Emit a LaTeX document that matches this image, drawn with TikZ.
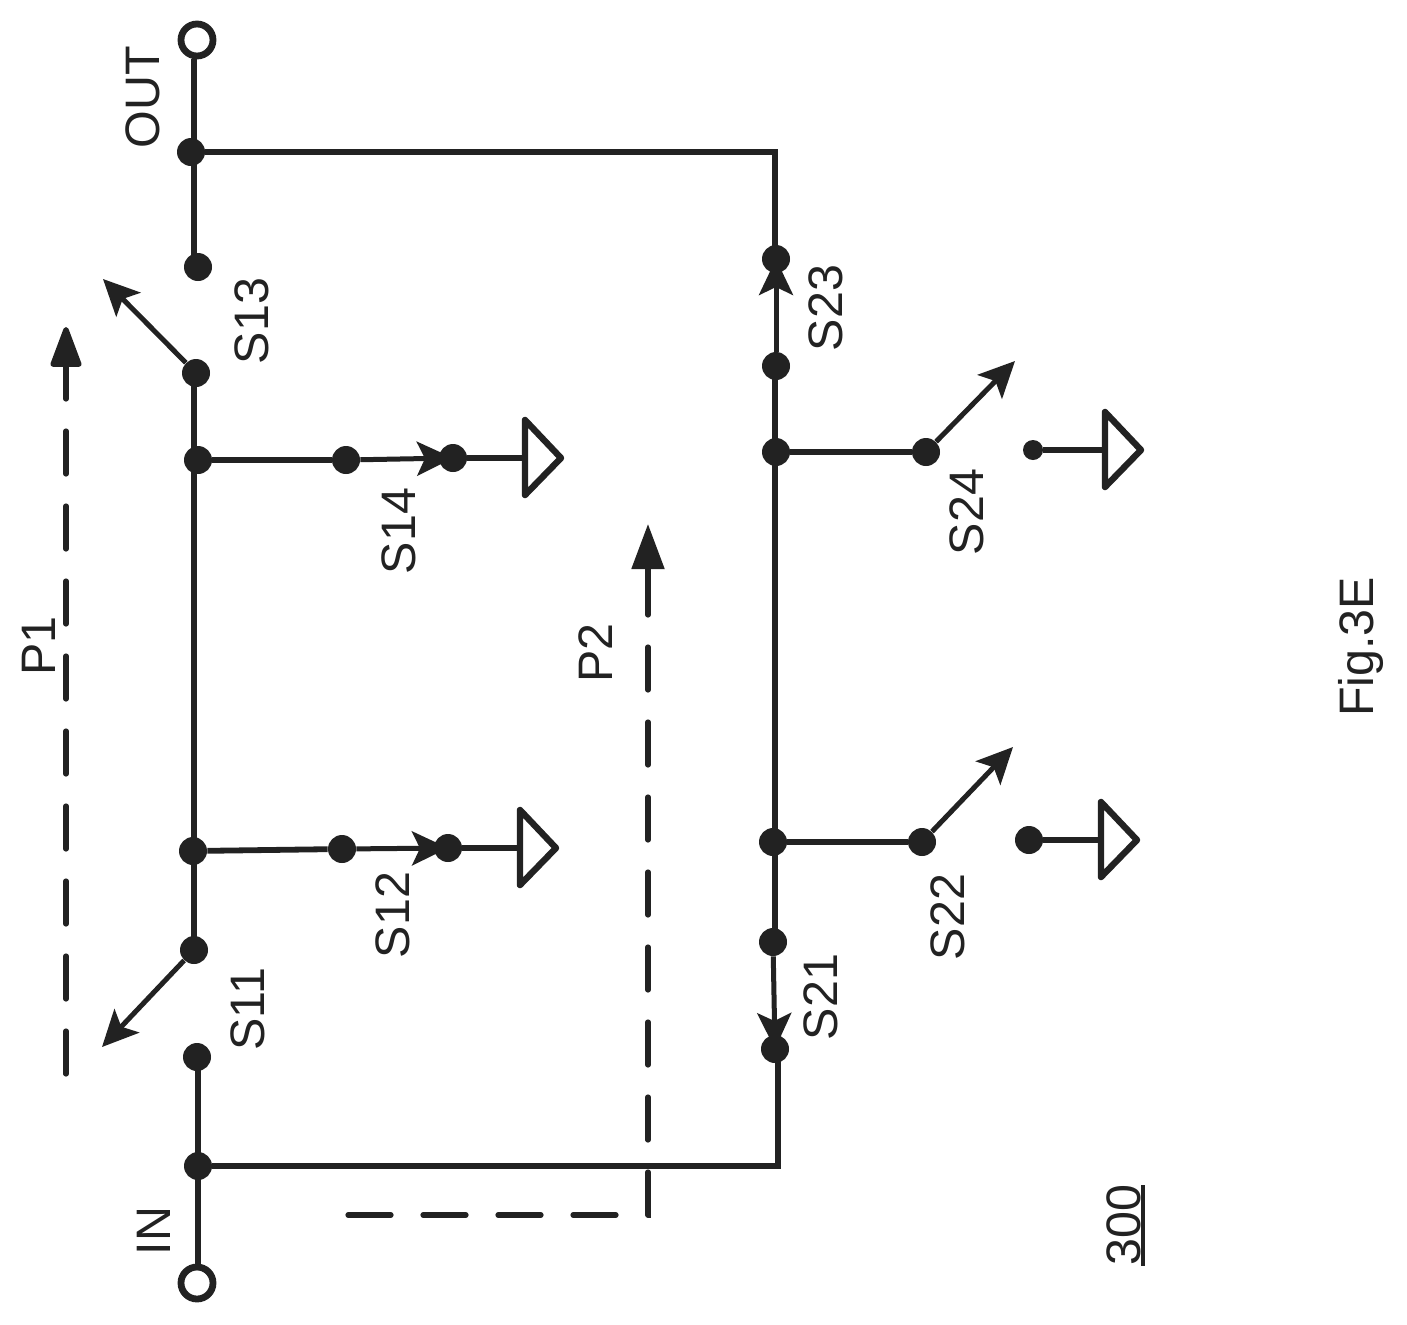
\documentclass[tikz,border=0pt]{standalone}
\usepackage{fontspec}
\setmainfont{Liberation Sans}
\usetikzlibrary{arrows.meta}
\definecolor{ink}{HTML}{222222}
\tikzset{
  dot/.style={circle,fill=ink,draw=none,inner sep=0pt,minimum size=14pt},
  smalldot/.style={circle,fill=ink,draw=none,inner sep=0pt,minimum size=10pt},
  term/.style={circle,fill=white,draw=ink,line width=3.4pt,inner sep=0pt,minimum size=16pt},
  wire/.style={draw=ink,line width=3.4pt},
  thin wire/.style={draw=ink,line width=2.9pt},
  sw/.style={draw=ink,line width=2.5pt,-{Stealth[length=18pt,width=17pt,inset=4pt]}},
  path dash/.style={draw=ink,line width=2.6pt,line cap=round,dash pattern=on 21.5pt off 16pt,-{Triangle[length=22.5pt,width=16pt,round=false]}},
  plain dash/.style={draw=ink,line width=2.6pt,line cap=round,dash pattern=on 21.5pt off 16pt},
  gnd/.style={draw=ink,line width=3.2pt,line join=round},
  lab/.style={rotate=90,inner sep=0pt,text=ink,font=\fontsize{24.2pt}{27pt}\selectfont},
}
\begin{document}
\begin{tikzpicture}[x=0.5pt,y=-0.5pt]
\useasboundingbox (0,0) rectangle (1407,1324);
\fill[white] (0,0) rectangle (1407,1324);
% rails
\coordinate (rt) at (194,0);
\coordinate (rb) at (198,0);
\coordinate (rr) at (775,0);
% dots and terminals
\node[term] (out) at (197,40) {};
\node[term] (in) at (197,1283) {};
\node[dot] (outj) at (191,152) {};
\node[dot] (s13a) at (198,267) {};
\node[dot] (s13b) at (196,373) {};
\node[dot] (j14) at (198,460) {};
\node[dot] (s14a) at (346,460) {};
\node[dot] (s14b) at (453,458) {};
\node[dot] (j12) at (193,851) {};
\node[dot] (s12a) at (342,849) {};
\node[dot] (s12b) at (448,848) {};
\node[dot] (s11a) at (194,950) {};
\node[dot] (s11b) at (197,1057) {};
\node[dot] (inj) at (198,1166) {};
\node[dot] (s23b) at (776,259) {};
\node[dot] (s23a) at (776,366) {};
\node[dot] (j24) at (776,452) {};
\node[dot] (s24a) at (926,452) {};
\node[smalldot] (s24b) at (1033,450) {};
\node[dot] (j22) at (773,842) {};
\node[dot] (s22a) at (922,842) {};
\node[dot] (s22b) at (1029,840) {};
\node[dot] (s21a) at (773,942) {};
\node[dot] (s21b) at (775,1049) {};
% free ends
\coordinate (c1) at (775,152);
\coordinate (c2) at (778,1166);
\coordinate (t13) at (103,279);
\coordinate (t11) at (102,1047);
\coordinate (t24) at (1015,361);
\coordinate (t22) at (1013,747);
\coordinate (g14) at (525,458);
\coordinate (g12) at (520,848);
\coordinate (g24) at (1105,450);
\coordinate (g22) at (1101,840);
\coordinate (p1a) at (66,1074);
\coordinate (p1b) at (66,327);
\coordinate (p2s) at (348,1215);
\coordinate (p2c) at (648,1215);
\coordinate (p2b) at (648,524);
\coordinate (u300a) at (1143,1185);
\coordinate (u300b) at (1143,1266);
% wires
\path[wire] (rt |- out.south) -- (rt |- s13a);
\path[wire] (rt |- s13b) -- (rt |- s11a);
\path[wire] (rb |- s11b) -- (rb |- in.north);
\path[thin wire,line join=miter] (outj) -- (c1) -- (c1 |- s23b);
\path[thin wire,line join=miter] (inj) -- (c2) -- (c2 |- s21b);
\path[wire] (rr |- s23a) -- (rr |- s21a);
\path[thin wire] (j14) -- (s14a);
\path[thin wire] (j12) -- (s12a);
\path[thin wire] (j24) -- (s24a);
\path[thin wire] (j22) -- (s22a);
% switches
\path[sw] (s13b) -- (t13);
\path[sw] (s11a) -- (t11);
\path[sw] (s14a) -- (s14b.center);
\path[sw] (s12a) -- (s12b.center);
\path[sw] (s23a) -- (s23b.center);
\path[sw] (s21a) -- (s21b.center);
\path[sw] (s24a) -- (t24);
\path[sw] (s22a) -- (t22);
% grounds
\path[wire] (s14b) -- (g14);
\path[wire] (s12b) -- (g12);
\path[thin wire] (s24b) -- (g24);
\path[thin wire] (s22b) -- (g22);
\path[gnd] (525,420) -- (561,458) -- (525,495) -- cycle;
\path[gnd] (520,810) -- (556,848) -- (520,885) -- cycle;
\path[gnd] (1105,412) -- (1141,450) -- (1105,487) -- cycle;
\path[gnd] (1101,802) -- (1137,840) -- (1101,877) -- cycle;
% signal paths
\path[path dash] (p1a) -- (p1b);
\path[plain dash] (p2s) -- (p2c) -- (648,569);
\path[draw=ink,line width=2.6pt,-{Triangle[length=22.5pt,width=16pt]}] (648,615) -- (p2b);
% labels
\node[lab] (lout) at (143,97) {OUT};
\node[lab] (lin) at (154,1231) {IN};
\node[lab] (l13) at (252,321) {S13};
\node[lab] (l14) at (399,531) {S14};
\node[lab] (l12) at (393,915) {S12};
\node[lab] (l11) at (248,1009) {S11};
\node[lab] (l23) at (826,308) {S23};
\node[lab] (l24) at (967,512) {S24};
\node[lab] (l22) at (948,917) {S22};
\node[lab] (l21) at (821,997) {S21};
\node[lab] (lp1) at (39,646) {P1};
\node[lab] (lp2) at (596,653) {P2};
\node[lab,anchor=base] (lfig) at (1373,647) {Fig.3E};
\node[lab] (l300) at (1124,1225) {300};
\path[draw=ink,line width=1.8pt] (u300a) -- (u300b);
\end{tikzpicture}
\end{document}
